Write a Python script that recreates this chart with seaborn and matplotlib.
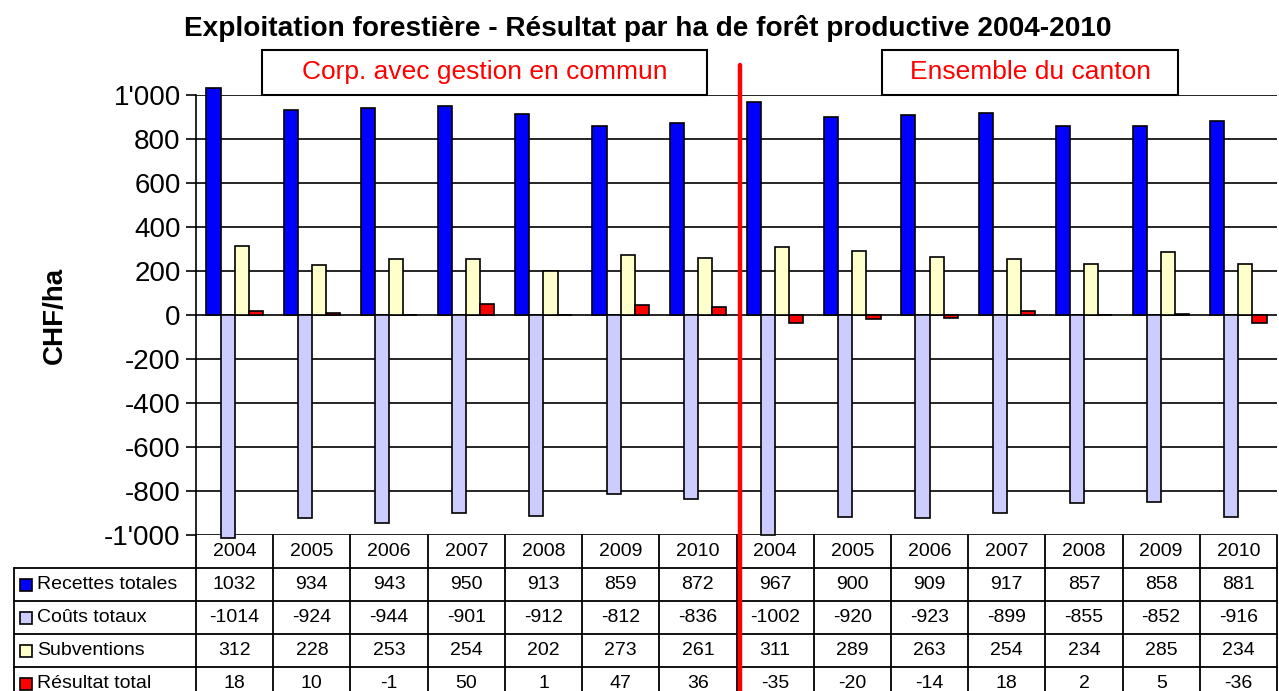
import numpy as np
import pandas as pd
import matplotlib
matplotlib.use("Agg")
import matplotlib.pyplot as plt
import matplotlib.transforms as mtransforms
from matplotlib.patches import Rectangle
from matplotlib.ticker import FuncFormatter
import seaborn as sns

# données
years = ["2004", "2005", "2006", "2007", "2008", "2009", "2010"]
groups = ["Corp. avec gestion en commun", "Ensemble du canton"]
series = ["Recettes totales", "Coûts totaux", "Subventions", "Résultat total"]
recettes = [1032, 934, 943, 950, 913, 859, 872, 967, 900, 909, 917, 857, 858, 881]
couts = [-1014, -924, -944, -901, -912, -812, -836, -1002, -920, -923, -899, -855, -852, -916]
subventions = [312, 228, 253, 254, 202, 273, 261, 311, 289, 263, 254, 234, 285, 234]
resultat = [18, 10, -1, 50, 1, 47, 36, -35, -20, -14, 18, 2, 5, -36]
colors = ["#0000FF", "#CCCCFF", "#FFFFCC", "#FF0000"]
yticks = [-1000, -800, -600, -400, -200, 0, 200, 400, 600, 800, 1000]

sns.set_style("white")
plt.rcParams['font.family'] = ['Liberation Sans', 'DejaVu Sans']
plt.rcParams['text.color'] = 'black'
plt.rcParams['ytick.color'] = 'black'
plt.rcParams['ytick.labelcolor'] = 'black'

cats = [f"{g}|{y}" for g in groups for y in years]
col_labels = years + years
values = [recettes, couts, subventions, resultat]
df = pd.DataFrame({
    "cat": cats * 4,
    "serie": [s for s in series for _ in cats],
    "val": [v for vals in values for v in vals],
})

W, H = 1279, 691
fig = plt.figure(figsize=(W / 100, H / 100), dpi=100)
ax = fig.add_axes([196 / W, 1 - 535 / H, 1081 / W, 440 / H])

sns.barplot(data=df, x="cat", y="val", hue="serie", order=cats, hue_order=series,
            palette=colors, saturation=1, width=0.73, edgecolor="black",
            linewidth=1.2, legend=False, ax=ax)
for p in ax.patches:
    p.set_clip_on(False)
    p.set_zorder(3)

n = len(cats)
ax.set_xlim(-0.5, n - 0.5)
ax.set_ylim(-1000, 1000)
ax.set_yticks(yticks)
ax.yaxis.set_major_formatter(FuncFormatter(
    lambda v, _: f"{int(v):,}".replace(",", "'")))
ax.tick_params(axis="y", labelsize=20, length=7, width=1.2, color="black",
               labelcolor="black", left=True, pad=4)
ax.set_xticks([])
ax.set_xlabel("")
ax.set_ylabel("")
ax.yaxis.grid(True, color="black", linewidth=1.2)
ax.set_axisbelow(True)
for s in ["top", "right", "bottom"]:
    ax.spines[s].set_visible(False)
ax.spines["left"].set_color("black")
ax.spines["left"].set_linewidth(1.2)

def fy(px):
    return 1 - px / H

trans = mtransforms.blended_transform_factory(ax.transData, fig.transFigure)
px_per_cat = 1081 / n
x_left = -0.5 - (196 - 14) / px_per_cat

# tableau
row_top = [568, 601, 634, 667, 700]
lw = 1.3
for k in range(n + 1):
    ax.add_line(plt.Line2D([k - 0.5, k - 0.5], [fy(535), 0], transform=trans,
                           color="black", lw=lw, clip_on=False))
ax.add_line(plt.Line2D([x_left, x_left], [fy(568), 0], transform=trans,
                       color="black", lw=lw, clip_on=False))
for yt in row_top:
    ax.add_line(plt.Line2D([x_left, n - 0.5], [fy(yt), fy(yt)], transform=trans,
                           color="black", lw=lw, clip_on=False))
for i, lab in enumerate(col_labels):
    ax.text(i, fy(551.5), lab, transform=trans, ha="center", va="center", fontsize=14)
for r, (s, vals, c) in enumerate(zip(series, values, colors)):
    yc = (row_top[r] + row_top[r + 1]) / 2
    fig.patches.append(Rectangle((20 / W, fy(yc + 6)), 12 / W, 12 / H,
                                 transform=fig.transFigure, facecolor=c,
                                 edgecolor="black", lw=1.2))
    fig.text(37 / W, fy(yc), s, ha="left", va="center", fontsize=14)
    for i, v in enumerate(vals):
        ax.text(i, fy(yc), str(v), transform=trans, ha="center", va="center", fontsize=14)

# séparation et encadrés
ax.add_line(plt.Line2D([6.55, 6.55], [fy(65), 0], transform=trans,
                       color="#FF0000", lw=3.2, clip_on=False, zorder=10))
for (x0, x1), label in zip([(0.355, 6.12), (8.39, 12.22)], groups):
    ax.add_patch(Rectangle((x0, fy(95)), x1 - x0, 45 / H, transform=trans,
                           facecolor="white", edgecolor="black", lw=1.5, clip_on=False, zorder=5))
    ax.text((x0 + x1) / 2, fy(72), label, transform=trans, ha="center", va="center",
            color="#FF0000", fontsize=19, zorder=6)

fig.text(648 / W, fy(28), "Exploitation forestière - Résultat par ha de forêt productive 2004-2010",
         ha="center", va="center", fontsize=20.2, fontweight="bold")
fig.text(55 / W, fy(315), "CHF/ha", ha="center", va="center", rotation=90,
         fontsize=20, fontweight="bold")

fig.savefig("out.png", dpi=100)
